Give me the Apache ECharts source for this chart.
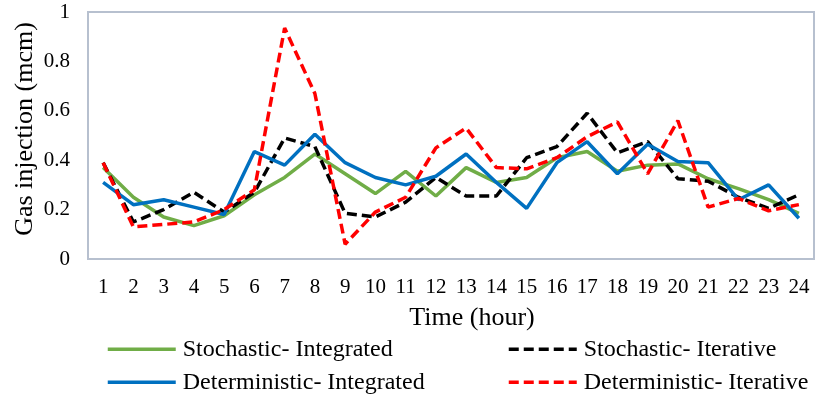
<!DOCTYPE html>
<html>
<head>
    <title>Gas injection</title>
    <script src="https://cdn.jsdelivr.net/npm/echarts@6/dist/echarts.min.js"></script>
</head>
<body style="margin:0">
    <div id="main" style="width: 815px; height: 398px;"></div>

    <script>
        const hours = ['1','2','3','4','5','6','7','8','9','10','11','12','13','14','15','16','17','18','19','20','21','22','23','24'];
        const stochInteg = [0.37,0.25,0.17,0.135,0.175,0.26,0.33,0.425,0.345,0.265,0.355,0.255,0.37,0.31,0.33,0.41,0.435,0.355,0.38,0.385,0.325,0.285,0.24,0.185];
        const stochIter  = [0.39,0.15,0.20,0.27,0.19,0.27,0.49,0.455,0.185,0.17,0.23,0.33,0.255,0.255,0.41,0.455,0.59,0.43,0.475,0.325,0.315,0.25,0.205,0.26];
        const detInteg   = [0.31,0.22,0.24,0.21,0.18,0.435,0.38,0.505,0.39,0.33,0.30,0.335,0.425,0.31,0.205,0.39,0.475,0.345,0.465,0.395,0.39,0.24,0.30,0.165];
        const detIter    = [0.39,0.13,0.14,0.15,0.20,0.28,0.935,0.67,0.06,0.19,0.25,0.45,0.53,0.37,0.365,0.41,0.495,0.555,0.345,0.56,0.21,0.245,0.195,0.22];

        const serif = 'Liberation Serif';
        const frame = '#b7c0cf';

        function line(name, data, color, dash) {
            return {
                name: name,
                type: 'line',
                data: data,
                symbol: 'none',
                lineStyle: { color: color, width: 3.5, type: dash ? [10, 5] : 'solid' },
                itemStyle: { color: color }
            };
        }

        // one legend per entry so the 2x2 layout stays put
        function legendItem(name, left, top) {
            return {
                data: [name],
                left: left, top: top,
                padding: 0,
                itemWidth: 68, itemHeight: 14,
                itemStyle: { opacity: 0 },
                lineStyle: { width: 3.5 },
                textStyle: { fontFamily: serif, fontSize: 24, lineHeight: 24, color: '#000', padding: [0, 0, 0, 2] }
            };
        }

        // axis titles as plain text, v6 keeps pushing axis names past the labels
        function axisTitle(text, x, y, rotation) {
            return {
                type: 'text', x: x, y: y, rotation: rotation,
                style: {
                    text: text, fill: '#000',
                    font: '26px "Liberation Serif"',
                    align: 'center', verticalAlign: 'middle',
                    textAlign: 'center', textVerticalAlign: 'middle'
                }
            };
        }

        const option = {
            animation: false,
            grid: { left: 88, right: 1, top: 12, bottom: 139, outerBoundsMode: 'none', show: true, borderColor: frame, borderWidth: 2 },
            xAxis: {
                type: 'category',
                data: hours,
                axisTick: { show: false },
                axisLine: { lineStyle: { color: frame, width: 2 } },
                axisLabel: { fontFamily: serif, fontSize: 21, color: '#000', margin: 12 }
            },
            yAxis: {
                type: 'value',
                min: 0,
                max: 1,
                interval: 0.2,
                splitLine: { show: false },
                axisLine: { show: true, lineStyle: { color: frame, width: 2 } },
                axisLabel: { fontFamily: serif, fontSize: 21, color: '#000', margin: 18 }
            },
            graphic: [
                axisTitle('Time (hour)', 472, 318, 0),
                axisTitle('Gas injection (mcm)', 25, 129, Math.PI / 2)
            ],
            legend: [
                legendItem('Stochastic- Integrated', 106, 331),
                legendItem('Deterministic- Integrated', 106, 364),
                legendItem('Stochastic- Iterative', 507, 331),
                legendItem('Deterministic- Iterative', 507, 364)
            ],
            series: [
                line('Stochastic- Integrated', stochInteg, '#70ad47', false),
                line('Stochastic- Iterative', stochIter, '#000000', true),
                line('Deterministic- Integrated', detInteg, '#0070c0', false),
                line('Deterministic- Iterative', detIter, '#ff0000', true)
            ]
        };

        const chart = echarts.init(document.getElementById('main'));
        chart.setOption(option);
    </script>
</body>
</html>
